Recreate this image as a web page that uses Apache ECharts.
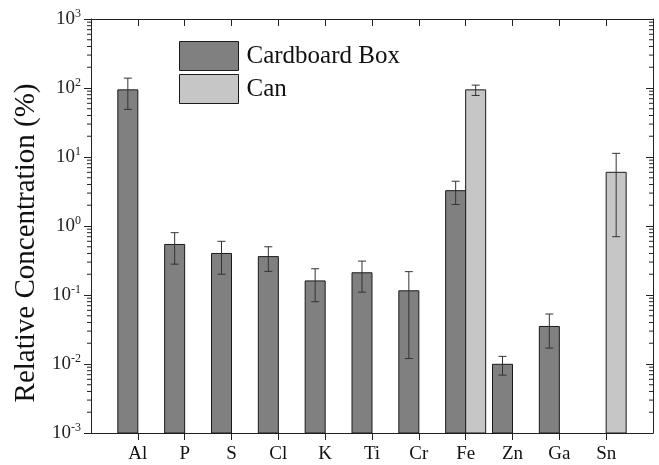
<!DOCTYPE html>
<html>
<head>
<meta charset="utf-8">
<script src="https://cdn.jsdelivr.net/npm/echarts@6/dist/echarts.min.js"></script>
<style>
  html, body { margin: 0; padding: 0; background: #fff; }
  #chart { width: 659px; height: 465px; }
</style>
</head>
<body>
<div id="chart"></div>
<script>
// element order along the x axis
const elements = ['Al', 'P', 'S', 'Cl', 'K', 'Ti', 'Cr', 'Fe', 'Zn', 'Ga', 'Sn']
// relative concentration (%) and +/- error
const cardboard = [94, 0.54, 0.40, 0.36, 0.16, 0.21, 0.115, 3.25, 0.0099, 0.035, null]
const cardboardErr = [45, 0.26, 0.2, 0.14, 0.08, 0.1, 0.103, 1.2, 0.003, 0.018, null]
const can = [null, null, null, null, null, null, null, 94, null, null, 6.0]
const canErr = [null, null, null, null, null, null, null, 16, null, null, 5.3]
const decades = [-3, -2, -1, 0, 1, 2, 3]

const font = "'Liberation Serif', 'DejaVu Serif', serif"
const yMin = 0.001
const yMax = 1000
const darkGray = '#808080'
const lightGray = '#c6c6c6'
const edge = '#1a1a1a'

// empty slot at each end so the labels sit one band in from the frame
const xData = [''].concat(elements, [''])

// log minor ticks 2..9 in each decade
const minorTicks = []
decades.slice(0, -1).forEach(d => {
  for (let k = 2; k <= 9; k++) minorTicks.push([0, k * Math.pow(10, d)])
})

function barData(vals, errs) {
  const out = []
  vals.forEach((v, i) => {
    if (v != null) out.push([i + 1, v, v - errs[i], v + errs[i]])
  })
  return out
}

// bars on a log axis have to start from the axis floor, so draw them here
function barRender(offset, fill) {
  return function (params, api) {
    const idx = api.value(0)
    const top = api.coord([idx, api.value(1)])
    const base = api.coord([idx, yMin])
    const lo = api.coord([idx, api.value(2)])
    const hi = api.coord([idx, api.value(3)])
    const w = 20
    const x0 = top[0] + offset
    const xc = x0 + w / 2
    const cap = 4
    const es = { stroke: '#333', lineWidth: 1 }
    return {
      type: 'group',
      children: [
        {
          type: 'rect',
          shape: { x: x0, y: top[1], width: w, height: base[1] - top[1] },
          style: { fill: fill, stroke: edge, lineWidth: 1 }
        },
        { type: 'line', shape: { x1: xc, y1: lo[1], x2: xc, y2: hi[1] }, style: es },
        { type: 'line', shape: { x1: xc - cap, y1: lo[1], x2: xc + cap, y2: lo[1] }, style: es },
        { type: 'line', shape: { x1: xc - cap, y1: hi[1], x2: xc + cap, y2: hi[1] }, style: es }
      ]
    }
  }
}

const myChart = echarts.init(document.getElementById('chart'))

const option = {
  animation: false,
  backgroundColor: '#fff',
  textStyle: { fontFamily: font },
  grid: { left: 91, right: 6, top: 19, bottom: 32 },
  graphic: [
    {
      // y axis title, sits a little below the plot centre in the original
      type: 'text',
      x: 26,
      y: 243,
      rotation: Math.PI / 2,
      style: {
        text: 'Relative Concentration (%)',
        fontFamily: font,
        fontSize: 29,
        fill: '#111',
        align: 'center',
        verticalAlign: 'middle'
      }
    }
  ],
  legend: {
    data: [
      { name: 'Cardboard Box', itemStyle: { color: darkGray, borderColor: edge, borderWidth: 1 } },
      { name: 'Can', itemStyle: { color: lightGray, borderColor: edge, borderWidth: 1 } }
    ],
    orient: 'vertical',
    left: 174,
    top: 36,
    itemWidth: 59,
    itemHeight: 29,
    itemGap: 3,
    icon: 'rect',
    selectedMode: false,
    textStyle: { fontFamily: font, fontSize: 25, color: '#111', padding: [0, 0, 0, 3] }
  },
  xAxis: [
    {
      type: 'category',
      data: xData,
      boundaryGap: false,
      axisLine: { lineStyle: { color: '#222', width: 1 } },
      axisTick: {
        length: 7,
        lineStyle: { color: '#222' },
        interval: (i) => i > 0 && i < xData.length - 1
      },
      axisLabel: {
        margin: 12,
        fontFamily: font,
        fontSize: 19,
        color: '#111',
        interval: 0
      },
      splitLine: { show: false }
    },
    {
      type: 'category',
      data: xData,
      boundaryGap: false,
      position: 'top',
      axisLine: { lineStyle: { color: '#222', width: 1 } },
      axisTick: {
        inside: true,
        length: 7,
        lineStyle: { color: '#222' },
        interval: (i) => i > 0 && i < xData.length - 1
      },
      axisLabel: { show: false },
      splitLine: { show: false }
    }
  ],
  yAxis: [
    {
      type: 'log',
      logBase: 10,
      min: yMin,
      max: yMax,
      axisLine: { show: true, lineStyle: { color: '#222', width: 1 } },
      axisTick: { show: true, length: 7, lineStyle: { color: '#222' } },
      splitLine: { show: false },
      axisLabel: {
        margin: 10,
        color: '#222',
        formatter: function (v) {
          const e = Math.round(Math.log10(v))
          return '{b|10}{s|' + e + '}'
        },
        rich: {
          b: { fontFamily: font, fontSize: 19, color: '#222', lineHeight: 22 },
          s: { fontFamily: font, fontSize: 12, color: '#222', verticalAlign: 'top', lineHeight: 22 }
        }
      }
    },
    {
      type: 'log',
      logBase: 10,
      min: yMin,
      max: yMax,
      position: 'right',
      axisLine: { show: true, lineStyle: { color: '#222', width: 1 } },
      axisTick: { show: true, inside: true, length: 7, lineStyle: { color: '#222' } },
      axisLabel: { show: false },
      splitLine: { show: false }
    }
  ],
  series: [
    {
      name: 'Cardboard Box',
      type: 'custom',
      data: barData(cardboard, cardboardErr),
      itemStyle: { color: darkGray },
      renderItem: barRender(-20, darkGray),
      silent: true,
      z: 2
    },
    {
      name: 'Can',
      type: 'custom',
      data: barData(can, canErr),
      itemStyle: { color: lightGray },
      renderItem: barRender(0, lightGray),
      silent: true,
      z: 2
    },
    {
      // minor log ticks on left (outward) and right (inward) axes
      type: 'custom',
      data: minorTicks,
      silent: true,
      renderItem: function (params, api) {
        const y = api.coord([0, api.value(1)])[1]
        const cs = params.coordSys
        const style = { stroke: '#222', lineWidth: 1 }
        return {
          type: 'group',
          children: [
            { type: 'line', shape: { x1: cs.x - 4, y1: y, x2: cs.x, y2: y }, style: style },
            { type: 'line', shape: { x1: cs.x + cs.width - 4, y1: y, x2: cs.x + cs.width, y2: y }, style: style }
          ]
        }
      },
      z: 6
    }
  ]
}

myChart.setOption(option)
</script>
</body>
</html>
